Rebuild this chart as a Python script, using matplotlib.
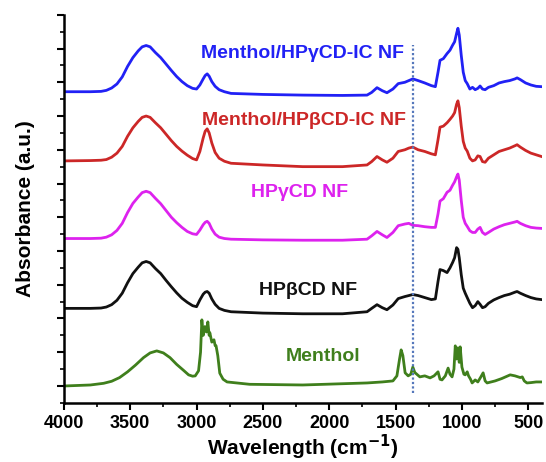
import matplotlib
matplotlib.use('Agg')
import matplotlib.pyplot as plt
from matplotlib.ticker import MultipleLocator

# shared wavenumber grid for the cyclodextrin spectra (cm-1)
wn_cd = [4000, 3800, 3720, 3680, 3640, 3600, 3560, 3520, 3480, 3440,
         3410, 3380, 3350, 3310, 3270, 3230, 3190, 3150, 3110, 3070,
         3030, 3000, 2975, 2950, 2935, 2920, 2905, 2885, 2860, 2830,
         2790, 2740,
         2500, 2200, 1900, 1715, 1680, 1640, 1600, 1565, 1520, 1480,
         1430, 1400, 1370, 1330, 1280, 1230, 1200, 1180, 1165, 1140,
         1112, 1090, 1070, 1055, 1040, 1030, 1020, 1005, 990, 975,
         960, 940, 920, 900, 880, 863, 845, 825, 800, 760,
         720, 680, 640, 600, 584, 560, 520, 480, 440, 400]

gam_ic = [8.72, 8.72, 8.73, 8.76, 8.83, 8.95, 9.16, 9.47, 9.73, 9.93,
          10.05, 10.09, 10.05, 9.88, 9.73, 9.54, 9.35, 9.17, 9.02, 8.9,
          8.82, 8.8, 8.92, 9.1, 9.2, 9.25, 9.18, 9.02, 8.88, 8.78,
          8.72, 8.67,
          8.64, 8.62, 8.61, 8.62, 8.7, 8.84, 8.75, 8.69, 8.8, 8.96,
          9.0, 9.05, 9.1, 9.05, 8.98, 8.9, 8.87, 9.3, 9.65, 9.7,
          9.85, 9.95, 10.1, 10.2, 10.45, 10.6, 10.4, 9.8, 9.3, 9.05,
          8.96, 8.8, 8.85, 8.78, 8.82, 8.89, 8.8, 8.78, 8.85, 8.9,
          8.98, 9.02, 9.05, 9.1, 9.13, 9.08, 8.98, 8.92, 8.88, 8.87]

beta_ic = [6.67, 6.68, 6.69, 6.71, 6.78, 6.9, 7.1, 7.4, 7.65, 7.84,
           7.96, 8.0, 7.96, 7.8, 7.65, 7.46, 7.27, 7.1, 6.96, 6.84,
           6.74, 6.7, 6.95, 7.35, 7.55, 7.62, 7.5, 7.2, 6.92, 6.75,
           6.66, 6.6,
           6.55, 6.5, 6.5, 6.55, 6.65, 6.8, 6.7, 6.63, 6.75, 6.95,
           7.0, 7.05, 7.08, 7.0, 6.95, 6.88, 6.85, 7.3, 7.67, 7.7,
           7.8, 7.9, 8.0, 8.1, 8.35, 8.45, 8.25, 7.7, 7.25, 7.05,
           6.96, 6.75, 6.67, 6.7, 6.82, 6.8, 6.65, 6.63, 6.75, 6.85,
           6.95, 7.0, 7.05, 7.12, 7.15, 7.08, 6.98, 6.9, 6.85, 6.8]

gam_nf = [4.37, 4.37, 4.38, 4.41, 4.48, 4.61, 4.82, 5.14, 5.41, 5.6,
          5.73, 5.77, 5.73, 5.56, 5.4, 5.2, 5.0, 4.84, 4.7, 4.58,
          4.51, 4.49, 4.62, 4.78, 4.85, 4.88, 4.82, 4.65, 4.5, 4.41,
          4.37, 4.35,
          4.33, 4.32, 4.32, 4.35, 4.45, 4.58, 4.48, 4.4, 4.55, 4.75,
          4.8, 4.82, 4.76, 4.75, 4.72, 4.7, 4.7, 5.1, 5.48, 5.55,
          5.74, 5.8, 5.95, 6.05, 6.2, 6.28, 6.1, 5.5, 5.0, 4.82,
          4.73, 4.6, 4.55, 4.55, 4.65, 4.7, 4.55, 4.49, 4.55, 4.65,
          4.72, 4.78, 4.82, 4.86, 4.88, 4.82, 4.75, 4.7, 4.68, 4.67]

beta_nf = [2.3, 2.3, 2.31, 2.34, 2.41, 2.54, 2.75, 3.06, 3.33, 3.52,
           3.65, 3.69, 3.65, 3.48, 3.33, 3.13, 2.94, 2.76, 2.6, 2.48,
           2.38, 2.35, 2.55, 2.72, 2.78, 2.8, 2.75, 2.58, 2.42, 2.3,
           2.24, 2.2,
           2.16, 2.14, 2.14, 2.2, 2.3, 2.41, 2.32, 2.26, 2.4, 2.59,
           2.65, 2.68, 2.71, 2.68, 2.62, 2.56, 2.58, 3.1, 3.45, 3.42,
           3.36, 3.5, 3.66, 3.8, 4.1, 4.05, 3.8, 3.3, 2.9, 2.75,
           2.62, 2.45, 2.32, 2.38, 2.5, 2.42, 2.32, 2.35, 2.45, 2.55,
           2.62, 2.68, 2.72, 2.78, 2.8, 2.75, 2.68, 2.62, 2.58, 2.56]

# menthol spectrum has its own grid (many sharp bands)
wn_m = [4000, 3800, 3700, 3640, 3580, 3520, 3460, 3400, 3350, 3300,
        3250, 3200, 3150, 3100, 3060, 3030, 3010,
        2985, 2970, 2960, 2950, 2937, 2925, 2915, 2905, 2900,
        2885, 2869, 2860, 2853, 2840, 2825, 2800, 2770, 2600, 2200,
        1715, 1600, 1520, 1490, 1470, 1458, 1445, 1428, 1405, 1385,
        1370, 1355, 1317, 1280, 1240, 1210, 1180, 1165, 1150, 1125,
        1104, 1090, 1074, 1060, 1050, 1040, 1030, 1020, 1013, 1000,
        985, 975, 960, 950, 935, 923, 900, 880, 860, 840,
        825, 810, 750, 700, 636, 600, 560, 545, 530, 510,
        480, 440, 400]
menthol = [0.0, 0.03, 0.08, 0.14, 0.25, 0.42, 0.62, 0.84, 0.98, 1.04,
           0.98, 0.84, 0.64, 0.47, 0.33, 0.29, 0.3,
           0.45, 1.0, 1.96, 1.5, 1.76, 1.6, 1.9, 1.5, 1.58,
           1.3, 1.37, 1.2, 1.19, 0.9, 0.38, 0.2, 0.12, 0.05, 0.03,
           0.09, 0.12, 0.15, 0.3, 0.8, 1.07, 0.9, 0.39, 0.3, 0.35,
           0.56, 0.4, 0.27, 0.3, 0.24, 0.3, 0.42, 0.2, 0.18, 0.3,
           0.53, 0.35, 0.27, 0.5, 1.19, 0.8, 1.13, 0.7, 1.16, 0.56,
           0.35, 0.33, 0.42, 0.3, 0.2, 0.09, 0.18, 0.12, 0.25, 0.39,
           0.15, 0.09, 0.15, 0.22, 0.33, 0.3, 0.25, 0.27, 0.15, 0.09,
           0.1, 0.12, 0.12]

labels = ['Menthol/HPγCD-IC NF', 'Menthol/HPβCD-IC NF', 'HPγCD NF', 'HPβCD NF', 'Menthol']
colors = ['#2121f5', '#cc2727', '#dd22ee', '#111111', '#3f7f1c']
label_pos = [(2205, 9.85), (2190, 7.86), (2220, 5.74), (2160, 2.83), (2047, 0.86)]
marker_wn = 1368

plt.rcParams['font.family'] = ['Liberation Sans', 'DejaVu Sans']
plt.rcParams['font.weight'] = 'bold'

fig = plt.figure(figsize=(5.46, 4.62), dpi=100)
ax = fig.add_axes([0.117, 0.128, 0.876, 0.84])

series = [(wn_cd, gam_ic), (wn_cd, beta_ic), (wn_cd, gam_nf), (wn_cd, beta_nf), (wn_m, menthol)]
for (x, y), c in zip(series, colors):
    ax.plot(x, y, color=c, lw=2.0, solid_joinstyle='round')

for txt, (px, py), c in zip(labels, label_pos, colors):
    ax.text(px, py, txt, color=c, fontsize=14, fontweight='bold', ha='center', va='center')

ax.plot([marker_wn, marker_wn], [-0.2, 10.1], color='#5577bb', lw=1.6, ls=(0, (1, 1)))

ax.set_xlim(4000, 395)
ax.set_ylim(-0.5, 11.0)
ax.xaxis.set_major_locator(MultipleLocator(500))
ax.xaxis.set_minor_locator(MultipleLocator(250))
ax.yaxis.set_major_locator(MultipleLocator(1))
ax.yaxis.set_minor_locator(MultipleLocator(0.5))
ax.tick_params(axis='both', which='major', direction='out', length=5, width=1.5, labelsize=13)
ax.tick_params(axis='both', which='minor', direction='out', length=3, width=1.2)
ax.tick_params(axis='y', which='both', labelleft=False)
for lab in ax.get_xticklabels():
    lab.set_fontweight('bold')

for s in ['top', 'right']:
    ax.spines[s].set_visible(False)
for s in ['left', 'bottom']:
    ax.spines[s].set_linewidth(1.8)

ax.set_xlabel(r'Wavelength (cm$^{\mathbf{-1}}$)', fontsize=15, fontweight='bold', labelpad=1)
ax.set_ylabel('Absorbance (a.u.)', fontsize=15, fontweight='bold', labelpad=16)

fig.savefig('out.png', dpi=100)
